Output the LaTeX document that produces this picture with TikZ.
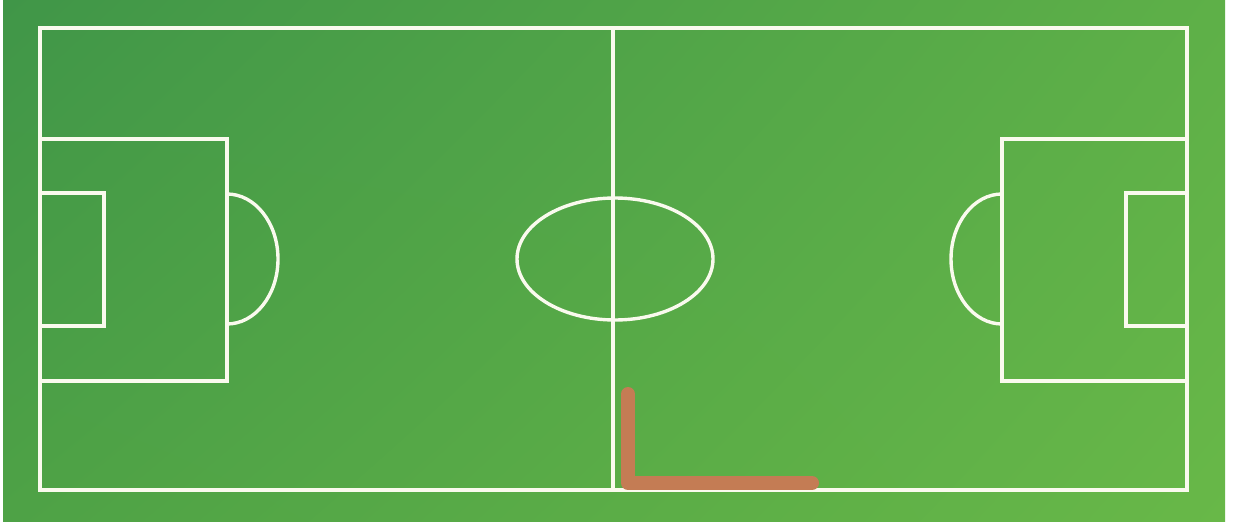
\documentclass[tikz,border=0pt]{standalone}
\usepackage{tikz}
\usetikzlibrary{shadings}
\definecolor{gUL}{RGB}{64,150,72}
\definecolor{gUR}{RGB}{94,176,72}
\definecolor{gLL}{RGB}{78,162,70}
\definecolor{gLR}{RGB}{104,184,72}
\definecolor{chalk}{RGB}{250,250,238}
\definecolor{clay}{RGB}{196,124,84}
\begin{document}
\begin{tikzpicture}[x=1pt,y=-1pt,
  pitchline/.style={draw=chalk,line width=3.4pt},
  marker/.style={draw=clay,line width=14pt,line cap=round,line join=round}]
\useasboundingbox (0,0) rectangle (1233,524);
\fill[white] (0,0) rectangle (1233,524);
\shade[upper left=gUL,upper right=gUR,lower left=gLL,lower right=gLR] (3,0) rectangle (1225,521);
% outline
\draw[pitchline] (40,28) rectangle (1187,490);
% halfway line
\draw[pitchline] (613,28) -- (613,490);
% centre ellipse
\draw[pitchline] (615,259) ellipse [x radius=98, y radius=61];
% left penalty and goal area
\draw[pitchline] (40,139) -- (227,139) -- (227,381) -- (40,381);
\draw[pitchline] (40,193) -- (104,193) -- (104,326) -- (40,326);
\draw[pitchline] (227,194) arc [start angle=-90, end angle=90, x radius=51, y radius=65];
% right penalty and goal area
\draw[pitchline] (1187,139) -- (1002,139) -- (1002,381) -- (1187,381);
\draw[pitchline] (1187,193) -- (1126,193) -- (1126,326) -- (1187,326);
\draw[pitchline] (1002,194) arc [start angle=-90, end angle=-270, x radius=51, y radius=65];
% brown L
\draw[marker] (628,394) -- (628,483) -- (812,483);
\end{tikzpicture}
\end{document}
